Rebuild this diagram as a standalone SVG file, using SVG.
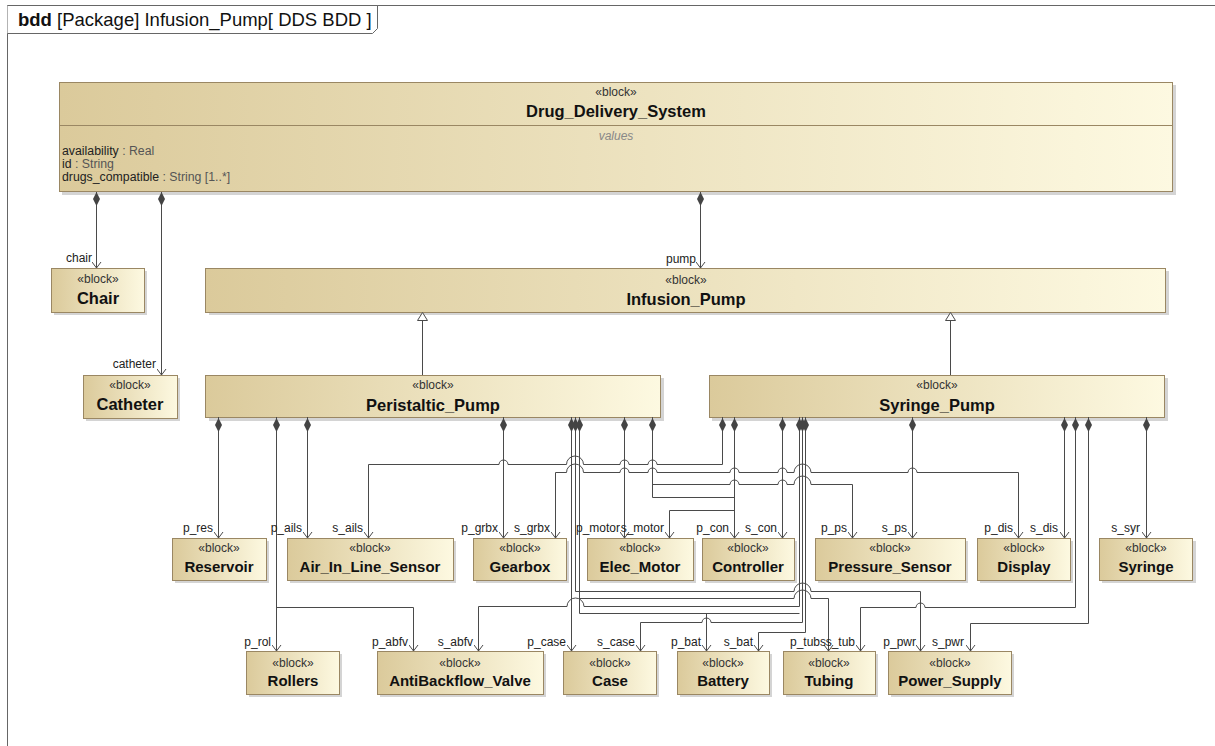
<svg xmlns="http://www.w3.org/2000/svg" xmlns:xlink="http://www.w3.org/1999/xlink" width="1215" height="746" viewBox="0 0 1215 746">
<style>
text{font-family:"Liberation Sans",Arial,sans-serif}
.bx{fill:url(#g);stroke:#9a8763;stroke-width:1}
.sh{fill:#a0a0a0;opacity:.45}
.st{font-size:12px;fill:#333;text-anchor:middle}
.nm{font-size:15px;font-weight:bold;fill:#111;text-anchor:middle}
.big{font-size:16.5px}
.lb{font-size:12px;fill:#222;text-anchor:end}
.at{font-size:12.3px;fill:#222}
.ty{fill:#555}
.c{fill:none;stroke:#4a4a4a;stroke-width:1}
.a{marker-end:url(#arr)}
</style>
<defs>
<linearGradient id="g" x1="0" y1="0" x2="1" y2="0">
<stop offset="0" stop-color="#dbca9b"/>
<stop offset="1" stop-color="#fdf9e1"/>
</linearGradient>
<marker id="arr" viewBox="0 0 7 10" refX="6.5" refY="5" markerWidth="7" markerHeight="10" markerUnits="userSpaceOnUse" orient="auto">
<path d="M0.5,0.5 L6.5,5 L0.5,9.5" fill="none" stroke="#4a4a4a" stroke-width="1"/>
</marker>
<path id="dia" d="M0,0 L3.5,7 L0,14 L-3.5,7Z" fill="#444"/>
<path id="tri" d="M0,0 L5,8 L-5,8Z" fill="#fff" stroke="#4a4a4a" stroke-width="1"/>
</defs>
<rect width="1215" height="746" fill="#fff"/>
<g id="frame">
<path d="M7.5,746 V5.5 H1215" fill="none" stroke="#666" stroke-width="1"/>
<path d="M7.5,5.5 H377.5 V28.5 L372.5,33.5 H7.5" fill="#fff" stroke="#666" stroke-width="1"/>
<text x="18" y="26" style="font-size:18.5px;fill:#111"><tspan font-weight="bold">bdd</tspan> [Package] Infusion_Pump[ DDS BDD ]</text>
</g>
<g id="DDS">
<rect class="sh" x="62" y="85" width="1114" height="110"/>
<rect class="bx" x="59.5" y="82.5" width="1113" height="109"/>
<line x1="59.5" y1="125.5" x2="1172.5" y2="125.5" stroke="#9a8763"/>
<text class="st" x="616" y="96">«block»</text>
<text class="nm big" x="616" y="117">Drug_Delivery_System</text>
<text x="616" y="140" style="font-size:12px;font-style:italic;fill:#888;text-anchor:middle">values</text>
<text class="at" x="62" y="155">availability<tspan class="ty"> : Real</tspan></text>
<text class="at" x="62" y="168">id<tspan class="ty"> : String</tspan></text>
<text class="at" x="62" y="181">drugs_compatible<tspan class="ty"> : String [1..*]</tspan></text>
</g>
<g id="Chair"><rect class="sh" x="54" y="271" width="93" height="44"/><rect class="bx" x="51.5" y="268.5" width="93" height="44"/><text class="st" x="98" y="283">«block»</text><text class="nm big" x="98" y="304">Chair</text></g>
<g id="Catheter"><rect class="sh" x="86" y="378" width="94" height="43"/><rect class="bx" x="83.5" y="375.5" width="94" height="43"/><text class="st" x="130" y="389">«block»</text><text class="nm big" x="130" y="410">Catheter</text></g>
<g id="Infusion_Pump"><rect class="sh" x="209" y="271" width="960" height="44"/><rect class="bx" x="205.5" y="268.5" width="960" height="44"/><text class="st" x="686" y="284">«block»</text><text class="nm big" x="686" y="305">Infusion_Pump</text></g>
<g id="Peristaltic_Pump"><rect class="sh" x="209" y="378" width="455" height="43"/><rect class="bx" x="205.5" y="375.5" width="455" height="42"/><text class="st" x="433" y="389">«block»</text><text class="nm big" x="433" y="411">Peristaltic_Pump</text></g>
<g id="Syringe_Pump"><rect class="sh" x="712" y="378" width="456" height="43"/><rect class="bx" x="709.5" y="375.5" width="455" height="42"/><text class="st" x="937" y="389">«block»</text><text class="nm big" x="937" y="411">Syringe_Pump</text></g>
<g id="Reservoir"><rect class="sh" x="175" y="541" width="94" height="42"/><rect class="bx" x="172.5" y="538.5" width="94" height="42"/><text class="st" x="219" y="552">«block»</text><text class="nm" x="219" y="572">Reservoir</text></g>
<g id="Air_In_Line_Sensor"><rect class="sh" x="290" y="541" width="166" height="42"/><rect class="bx" x="287.5" y="538.5" width="166" height="42"/><text class="st" x="370" y="552">«block»</text><text class="nm" x="370" y="572">Air_In_Line_Sensor</text></g>
<g id="Gearbox"><rect class="sh" x="476" y="541" width="93" height="42"/><rect class="bx" x="473.5" y="538.5" width="93" height="42"/><text class="st" x="520" y="552">«block»</text><text class="nm" x="520" y="572">Gearbox</text></g>
<g id="Elec_Motor"><rect class="sh" x="590" y="541" width="106" height="42"/><rect class="bx" x="587.5" y="538.5" width="106" height="42"/><text class="st" x="640" y="552">«block»</text><text class="nm" x="640" y="572">Elec_Motor</text></g>
<g id="Controller"><rect class="sh" x="705" y="541" width="92" height="42"/><rect class="bx" x="702.5" y="538.5" width="92" height="42"/><text class="st" x="748" y="552">«block»</text><text class="nm" x="748" y="572">Controller</text></g>
<g id="Pressure_Sensor"><rect class="sh" x="818" y="541" width="150" height="42"/><rect class="bx" x="815.5" y="538.5" width="150" height="42"/><text class="st" x="890" y="552">«block»</text><text class="nm" x="890" y="572">Pressure_Sensor</text></g>
<g id="Display"><rect class="sh" x="980" y="541" width="93" height="42"/><rect class="bx" x="977.5" y="538.5" width="93" height="42"/><text class="st" x="1024" y="552">«block»</text><text class="nm" x="1024" y="572">Display</text></g>
<g id="Syringe"><rect class="sh" x="1102" y="541" width="94" height="42"/><rect class="bx" x="1099.5" y="538.5" width="93" height="42"/><text class="st" x="1146" y="552">«block»</text><text class="nm" x="1146" y="572">Syringe</text></g>
<g id="Rollers"><rect class="sh" x="249" y="654" width="93" height="43"/><rect class="bx" x="246.5" y="651.5" width="93" height="43"/><text class="st" x="293" y="667">«block»</text><text class="nm" x="293" y="686">Rollers</text></g>
<g id="AntiBackflow_Valve"><rect class="sh" x="380" y="654" width="166" height="43"/><rect class="bx" x="377.5" y="651.5" width="166" height="43"/><text class="st" x="460" y="667">«block»</text><text class="nm" x="460" y="686">AntiBackflow_Valve</text></g>
<g id="Case"><rect class="sh" x="566" y="654" width="93" height="43"/><rect class="bx" x="563.5" y="651.5" width="93" height="43"/><text class="st" x="610" y="667">«block»</text><text class="nm" x="610" y="686">Case</text></g>
<g id="Battery"><rect class="sh" x="680" y="654" width="92" height="43"/><rect class="bx" x="677.5" y="651.5" width="92" height="43"/><text class="st" x="723" y="667">«block»</text><text class="nm" x="723" y="686">Battery</text></g>
<g id="Tubing"><rect class="sh" x="786" y="654" width="92" height="43"/><rect class="bx" x="783.5" y="651.5" width="92" height="43"/><text class="st" x="829" y="667">«block»</text><text class="nm" x="829" y="686">Tubing</text></g>
<g id="Power_Supply"><rect class="sh" x="891" y="654" width="123" height="43"/><rect class="bx" x="888.5" y="651.5" width="123" height="43"/><text class="st" x="950" y="667">«block»</text><text class="nm" x="950" y="686">Power_Supply</text></g>
<g id="connectors">
<path class="c a" d="M96.5,192 V268"/>
<path class="c a" d="M161.5,192 V375"/>
<path class="c a" d="M700.5,192 V268"/>
<path class="c" d="M422.5,375 V320"/>
<path class="c" d="M950.5,375 V320"/>
<use xlink:href="#tri" x="422.5" y="312.5"/>
<use xlink:href="#tri" x="950.5" y="312.5"/>
<path class="c a" d="M218.5,417 V538"/>
<path class="c a" d="M276.5,417 V651"/>
<path class="c a" d="M276.5,607.5 H413.5 V651"/>
<path class="c a" d="M307.5,417 V538"/>
<path class="c a" d="M503.5,417 V538"/>
<path class="c a" d="M722.5,417 V464.5 H657 A4.5,4.5 0 0 0 648,464.5 H629 A4.5,4.5 0 0 0 620,464.5 H583.5 A8.5,8.5 0 0 0 566.5,464.5 H508 A4.5,4.5 0 0 0 499,464.5 H368.5 V538"/>
<path class="c" d="M555.5,472.5 H566.5 A8.5,8.5 0 0 1 583.5,472.5 H620 A4.5,4.5 0 0 1 629,472.5 H648 A4.5,4.5 0 0 1 657,472.5 H730 A4.5,4.5 0 0 1 739,472.5 H778 A4.5,4.5 0 0 1 787,472.5 H794 A8.5,8.5 0 0 1 811,472.5 H908 A4.5,4.5 0 0 1 917,472.5 H1018.5"/>
<path class="c a" d="M555.5,472.5 V538"/>
<path class="c a" d="M1018.5,472.5 V538"/>
<path class="c" d="M652.5,417 V497.5 H734.5"/>
<path class="c a" d="M652.5,484.5 H730 A4.5,4.5 0 0 1 739,484.5 H778 A4.5,4.5 0 0 1 787,484.5 H794 A8.5,8.5 0 0 1 811,484.5 H852.5 V538"/>
<path class="c a" d="M734.5,417 V538"/>
<path class="c a" d="M734.5,510.5 H669.5 V538"/>
<path class="c a" d="M624.5,417 V538"/>
<path class="c a" d="M782.5,417 V538"/>
<path class="c a" d="M912.5,417 V538"/>
<path class="c a" d="M1064.5,417 V538"/>
<path class="c a" d="M1146.5,417 V538"/>
<path class="c a" d="M1075.5,417 V607.5 H925 A4.5,4.5 0 0 0 916,607.5 H860.5 V651"/>
<path class="c a" d="M1088.5,417 V623.5 H970.5 V651"/>
<path class="c a" d="M571.5,417 V651"/>
<path class="c a" d="M575.5,417 V591.5 H794 A8.5,8.5 0 0 1 811,591.5 H920.5 V651"/>
<path class="c a" d="M579.5,417 V598.5 H794 A8.5,8.5 0 0 1 811,598.5 H828.5 V651"/>
<path class="c" d="M579.5,598 V613.5 H799.5"/>
<path class="c a" d="M706.5,613.5 V651"/>
<path class="c a" d="M799.5,417 V606.5 H584 A8.5,8.5 0 0 0 567,606.5 H478.5 V651"/>
<path class="c a" d="M802.5,417 V622.5 H711 A4.5,4.5 0 0 0 702,622.5 H640.5 V651"/>
<path class="c a" d="M805.5,417 V632.5 H758.5 V651"/>
<use xlink:href="#dia" x="96.5" y="192"/>
<use xlink:href="#dia" x="161.5" y="192"/>
<use xlink:href="#dia" x="700.5" y="192"/>
<use xlink:href="#dia" x="218.5" y="418"/>
<use xlink:href="#dia" x="276.5" y="418"/>
<use xlink:href="#dia" x="307.5" y="418"/>
<use xlink:href="#dia" x="503.5" y="418"/>
<use xlink:href="#dia" x="571.5" y="418"/>
<use xlink:href="#dia" x="575.5" y="418"/>
<use xlink:href="#dia" x="579.5" y="418"/>
<use xlink:href="#dia" x="624.5" y="418"/>
<use xlink:href="#dia" x="652.5" y="418"/>
<use xlink:href="#dia" x="722.5" y="418"/>
<use xlink:href="#dia" x="734.5" y="418"/>
<use xlink:href="#dia" x="782.5" y="418"/>
<use xlink:href="#dia" x="799.5" y="418"/>
<use xlink:href="#dia" x="802.5" y="418"/>
<use xlink:href="#dia" x="805.5" y="418"/>
<use xlink:href="#dia" x="912.5" y="418"/>
<use xlink:href="#dia" x="1064.5" y="418"/>
<use xlink:href="#dia" x="1075.5" y="418"/>
<use xlink:href="#dia" x="1088.5" y="418"/>
<use xlink:href="#dia" x="1146.5" y="418"/>
</g>
<g id="labels">
<text class="lb" x="92" y="262">chair</text>
<text class="lb" x="156" y="368">catheter</text>
<text class="lb" x="696" y="263">pump</text>
<text class="lb" x="213" y="532">p_res</text>
<text class="lb" x="302" y="532">p_ails</text>
<text class="lb" x="363" y="532">s_ails</text>
<text class="lb" x="498" y="532">p_grbx</text>
<text class="lb" x="550" y="532">s_grbx</text>
<text class="lb" x="620" y="532">p_motor</text>
<text class="lb" x="664" y="532">s_motor</text>
<text class="lb" x="729" y="532">p_con</text>
<text class="lb" x="777" y="532">s_con</text>
<text class="lb" x="847" y="532">p_ps</text>
<text class="lb" x="907" y="532">s_ps</text>
<text class="lb" x="1013" y="532">p_dis</text>
<text class="lb" x="1058" y="532">s_dis</text>
<text class="lb" x="1140" y="532">s_syr</text>
<text class="lb" x="271" y="646">p_rol</text>
<text class="lb" x="408" y="646">p_abfv</text>
<text class="lb" x="473" y="646">s_abfv</text>
<text class="lb" x="566" y="646">p_case</text>
<text class="lb" x="635" y="646">s_case</text>
<text class="lb" x="701" y="646">p_bat</text>
<text class="lb" x="753" y="646">s_bat</text>
<text class="lb" x="826" y="646">p_tubs</text>
<text class="lb" x="855" y="646">s_tub</text>
<text class="lb" x="916" y="646">p_pwr</text>
<text class="lb" x="964" y="646">s_pwr</text>
</g>
</svg>
